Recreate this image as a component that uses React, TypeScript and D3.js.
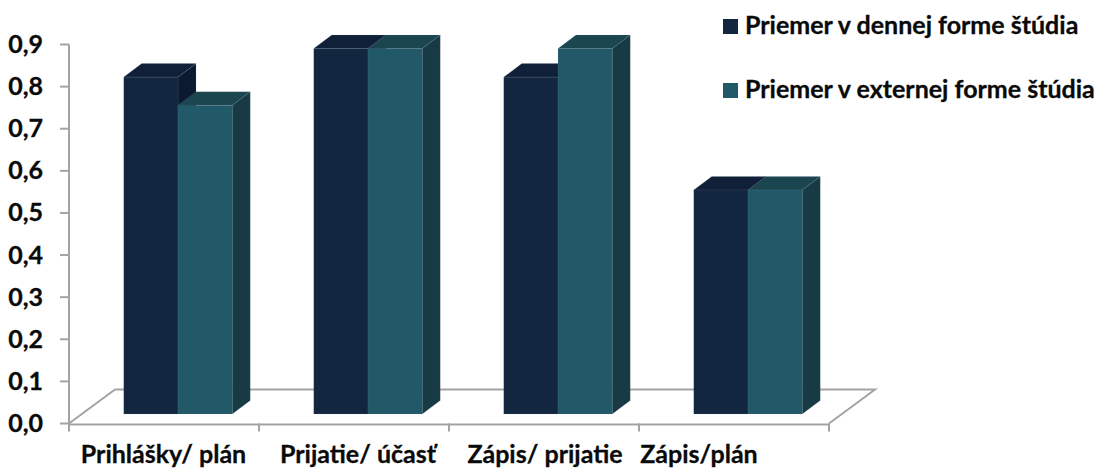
import React from "react";
import * as d3 from "d3";

const categories = ["Prihlášky/ plán", "Prijatie/ účasť", "Zápis/ prijatie", "Zápis/plán"];
const dennej = [0.8, 0.868, 0.8, 0.532];
const externej = [0.733, 0.868, 0.868, 0.532];
const tickValues = [0, 0.1, 0.2, 0.3, 0.4, 0.5, 0.6, 0.7, 0.8, 0.9];
const seriesNames = ["Priemer v dennej forme štúdia", "Priemer v externej forme štúdia"];
const labelCenters = [163.5, 358, 545, 699];

const W = 1100, H = 469;
const FONT = "Lato, 'Open Sans', sans-serif";
const AXIS = "#a3a3a3";
const palette = [
  { front: "#12263f", top: "#0f2038", side: "#0b1a2e" },
  { front: "#215968", top: "#1b4650", side: "#173a44" },
];

export default function App() {
  const x0 = 69, x1 = 829, yBase = 423.5, yTop = 44.5;
  const floorDx = 46, floorDy = 34;
  const planeDx = 14, planeDy = 9.5;
  const depthDx = 18, depthDy = 13.5;

  const y = d3.scaleLinear().domain([0, 0.9]).range([yBase, yTop]);
  const band = d3.scaleBand<string>().domain(categories).range([x0, x1]);
  const group = d3.scaleBand<string>().domain(categories).range([x0 + planeDx, x1 + planeDx]).paddingInner(0.429).paddingOuter(0.2145);
  const inner = d3.scaleBand<number>().domain([0, 1]).range([0, group.bandwidth()]);
  const series = [dennej, externej];
  const fmt = (v: number) => v.toFixed(1).replace(".", ",");
  const poly = (pts: [number, number][]) => pts.map((p) => p.join(",")).join(" ");
  const edge = { stroke: "#8794a3", strokeOpacity: 0.12, strokeWidth: 1 };

  return (
    <svg width={W} height={H} style={{ position: "absolute", left: 0, top: 0, background: "#fff" }} fontFamily={FONT} fontWeight={700} fill="#0a0a0a">
      {/* floor */}
      <polyline
        points={poly([[x0, yBase], [x0 + floorDx, yBase - floorDy], [x1 + floorDx, yBase - floorDy], [x1, yBase]])}
        fill="none" stroke={AXIS} strokeWidth={2} />
      {/* axes */}
      <line x1={x0} x2={x0} y1={yTop} y2={yBase + 6} stroke={AXIS} strokeWidth={2} />
      <line x1={x0} x2={x1} y1={yBase + 1} y2={yBase + 1} stroke={AXIS} strokeWidth={2} />
      {tickValues.map((t) => (
        <g key={t}>
          <line x1={x0 - 9} x2={x0} y1={y(t)} y2={y(t)} stroke={AXIS} strokeWidth={2} />
          <text x={43} y={y(t) + 8.5} textAnchor="end" fontSize={25} stroke="#0a0a0a" strokeWidth={0.3}>{fmt(t)}</text>
        </g>
      ))}
      {categories.map((c) => (
        <line key={c} x1={band(c)! + band.step()} x2={band(c)! + band.step()} y1={yBase} y2={yBase + 8} stroke={AXIS} strokeWidth={2} />
      ))}
      <line x1={x0} x2={x0} y1={yBase} y2={yBase + 8} stroke={AXIS} strokeWidth={2} />
      {/* bars */}
      {categories.map((c, i) => (
        <g key={c}>
          {series.map((vals, s) => {
            const left = group(c)! + inner(s)!;
            const right = left + inner.bandwidth();
            const bottom = y(0) - planeDy;
            const top = y(vals[i]) - planeDy;
            const col = palette[s];
            return (
              <g key={s}>
                <polygon points={poly([[right, top], [right + depthDx, top - depthDy], [right + depthDx, bottom - depthDy], [right, bottom]])} fill={col.side} {...edge} />
                <polygon points={poly([[left, top], [left + depthDx, top - depthDy], [right + depthDx, top - depthDy], [right, top]])} fill={col.top} {...edge} />
                <rect x={left} y={top} width={right - left} height={bottom - top} fill={col.front} {...edge} />
              </g>
            );
          })}
        </g>
      ))}
      {/* category labels */}
      {categories.map((c, i) => (
        <text key={c} x={labelCenters[i]} y={463} textAnchor="middle" fontSize={25} stroke="#0a0a0a" strokeWidth={0.3}>{c}</text>
      ))}
      {/* legend */}
      {seriesNames.map((n, i) => (
        <g key={n}>
          <rect x={723} y={19 + i * 64} width={15} height={15} fill={palette[i].front} />
          <text x={745} y={34 + i * 64} fontSize={25} stroke="#0a0a0a" strokeWidth={0.3}>{n}</text>
        </g>
      ))}
    </svg>
  );
}
